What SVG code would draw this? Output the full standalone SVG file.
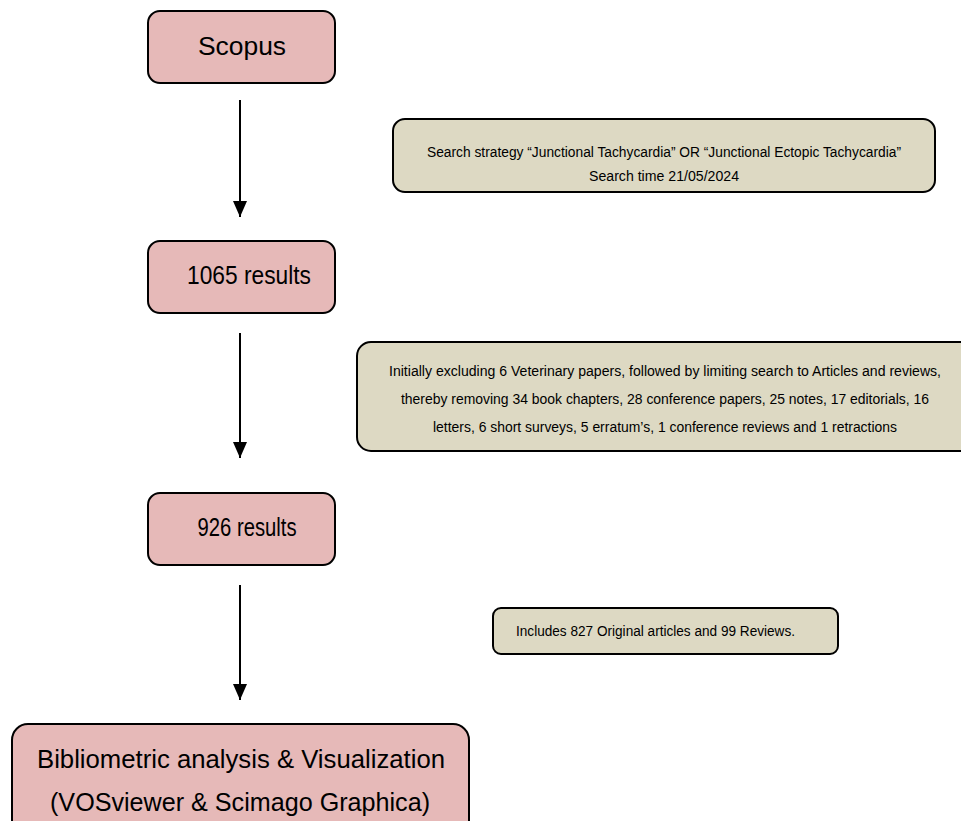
<svg xmlns="http://www.w3.org/2000/svg" width="961" height="821" viewBox="0 0 961 821">
<defs>
<marker id="ah" markerWidth="16" markerHeight="14" refX="16" refY="7" orient="auto" markerUnits="userSpaceOnUse" viewBox="0 0 16 14">
<path d="M0,0 L16,7 L0,14 Z" fill="#000"/>
</marker>
</defs>
<style>
.pink{fill:#e6b9b8;stroke:#000;stroke-width:2}
.tan{fill:#ddd9c3;stroke:#000;stroke-width:2}
.big{font-family:"Liberation Sans",Arial,sans-serif;font-size:25px;fill:#000;text-anchor:middle}
.small{font-family:"Liberation Sans",Arial,sans-serif;font-size:14px;fill:#000;text-anchor:middle}
.conn{stroke:#000;stroke-width:2;fill:none}
</style>
<rect width="961" height="821" fill="#fff"/>
<g id="connectors">
<line class="conn" x1="240" y1="100" x2="240" y2="217" marker-end="url(#ah)"/>
<line class="conn" x1="240" y1="333" x2="240" y2="458" marker-end="url(#ah)"/>
<line class="conn" x1="240" y1="585" x2="240" y2="700" marker-end="url(#ah)"/>
</g>
<g id="scopus">
<rect class="pink" x="148" y="11" width="187" height="72" rx="12"/>
<text class="big" x="242" y="55" textLength="88" lengthAdjust="spacingAndGlyphs">Scopus</text>
</g>
<g id="search">
<rect class="tan" x="393" y="119" width="542" height="73" rx="12"/>
<text class="small" x="664" y="157" textLength="474" lengthAdjust="spacingAndGlyphs">Search strategy “Junctional Tachycardia” OR “Junctional Ectopic Tachycardia”</text>
<text class="small" x="664" y="181" textLength="150" lengthAdjust="spacingAndGlyphs">Search time 21/05/2024</text>
</g>
<g id="results1065">
<rect class="pink" x="148" y="241" width="187" height="72" rx="12"/>
<text class="big" x="249" y="284" textLength="124" lengthAdjust="spacingAndGlyphs">1065 results</text>
</g>
<g id="exclusion">
<rect class="tan" x="357" y="342" width="620" height="109" rx="14"/>
<text class="small" x="665" y="376" textLength="552" lengthAdjust="spacingAndGlyphs">Initially excluding 6 Veterinary papers, followed by limiting search to Articles and reviews,</text>
<text class="small" x="665" y="404" textLength="528" lengthAdjust="spacingAndGlyphs">thereby removing 34 book chapters, 28 conference papers, 25 notes, 17 editorials, 16</text>
<text class="small" x="665" y="432" textLength="464" lengthAdjust="spacingAndGlyphs">letters, 6 short surveys, 5 erratum’s, 1 conference reviews and 1 retractions</text>
</g>
<g id="results926">
<rect class="pink" x="148" y="493" width="187" height="72" rx="12"/>
<text class="big" x="247" y="536" textLength="99" lengthAdjust="spacingAndGlyphs">926 results</text>
</g>
<g id="includes">
<rect class="tan" x="493" y="608" width="345" height="46" rx="8"/>
<text class="small" x="655.5" y="636" textLength="279" lengthAdjust="spacingAndGlyphs">Includes 827 Original articles and 99 Reviews.</text>
</g>
<g id="analysis">
<rect class="pink" x="12" y="724" width="457" height="120" rx="16"/>
<text class="big" x="241" y="768" font-size="28" textLength="408" lengthAdjust="spacingAndGlyphs">Bibliometric analysis &amp; Visualization</text>
<text class="big" x="240" y="811" font-size="28" textLength="380" lengthAdjust="spacingAndGlyphs">(VOSviewer &amp; Scimago Graphica)</text>
</g>
</svg>
